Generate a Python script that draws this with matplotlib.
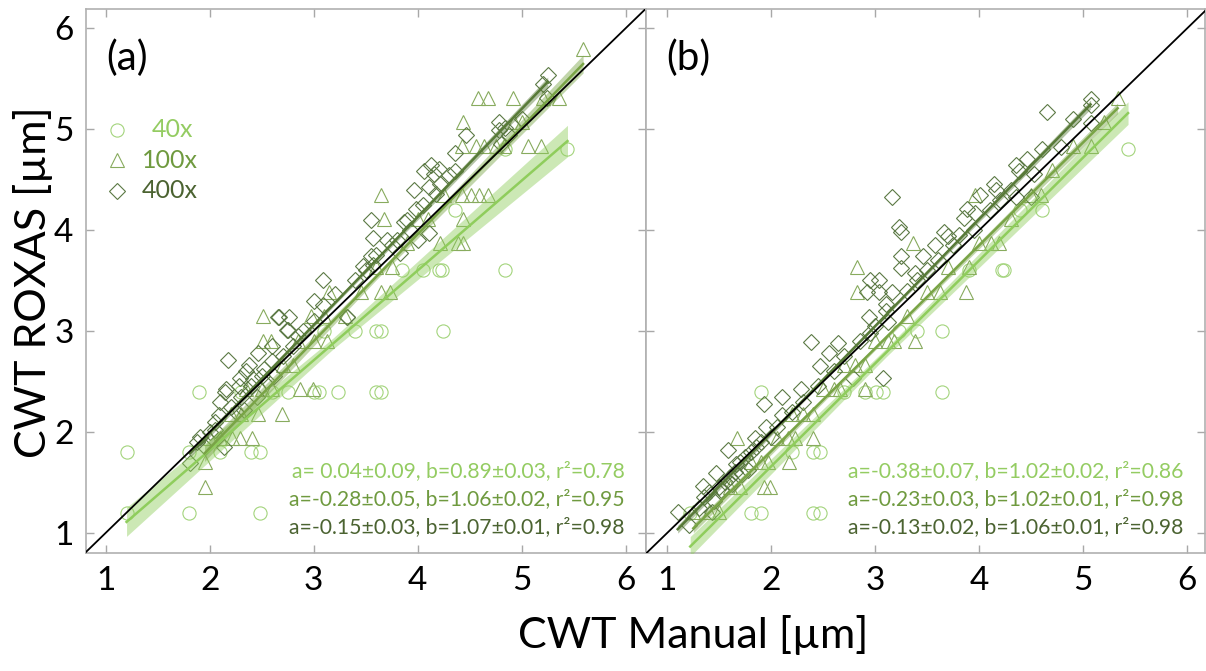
import numpy as np
import matplotlib.pyplot as plt

plt.rcParams['font.family'] = ['Lato', 'DejaVu Sans']

# ---- panel (a) ----
a40_x = [1.2, 1.2, 1.8, 1.8, 2.48, 2.4, 2.48, 1.9, 3.0, 3.05, 3.23, 3.6, 3.65, 3.6, 3.65, 4.24,
         4.2, 4.23, 4.84, 4.36, 4.84, 5.44, 2.1, 2.3, 2.6, 2.75, 3.1, 3.4, 3.85, 4.05]
a40_y = [1.2, 1.8, 1.2, 1.8, 1.2, 1.8, 1.8, 2.4, 2.4, 2.4, 2.4, 2.4, 2.4, 3.0, 3.0, 3.0,
         3.6, 3.6, 3.6, 4.2, 4.8, 4.8, 1.8, 2.4, 2.4, 2.4, 3.0, 3.0, 3.6, 3.6]

a100_x = [5.59, 4.58, 4.68, 4.92, 5.36, 4.44, 4.93, 4.43, 4.56, 4.64, 5.06, 5.19, 4.83, 4.43, 4.51,
          4.59, 4.68, 3.65, 3.68, 4.44, 4.21, 4.39, 4.44, 3.65, 3.73, 3.15, 2.51, 2.97, 2.51, 2.59,
          3.13, 2.87, 2.99, 2.69, 2.46, 2.21, 2.29, 2.41, 1.95, 1.95, 2.0, 2.1, 2.2, 2.3, 2.35,
          2.5, 2.6, 2.7, 2.8, 2.85, 3.0, 3.1, 3.3, 3.45, 3.6, 3.75, 3.9, 4.0, 4.1, 4.25, 4.75,
          5.0, 5.2]
a100_y = [5.79, 5.31, 5.31, 5.31, 5.31, 5.07, 5.07, 4.83, 4.83, 4.83, 4.83, 4.83, 4.83, 4.35, 4.35,
          4.35, 4.35, 4.35, 4.11, 4.11, 3.87, 3.87, 3.87, 3.39, 3.39, 3.39, 3.15, 3.15, 2.90, 2.90,
          2.90, 2.42, 2.42, 2.18, 2.18, 1.94, 1.94, 1.94, 1.70, 1.45, 1.94, 1.94, 2.18, 2.18, 2.42,
          2.42, 2.42, 2.66, 2.66, 2.90, 2.90, 3.15, 3.15, 3.39, 3.63, 3.63, 3.87, 4.11, 4.11, 4.35, 4.83,
          5.07, 5.31]

a400_x = [5.25, 5.24, 4.78, 4.84, 4.78, 4.88, 4.46, 4.36, 4.13, 4.06, 4.16, 4.21, 4.11, 4.18, 3.96,
          4.36, 3.98, 3.55, 3.87, 3.93, 4.11, 3.57, 3.75, 3.83, 4.0, 3.55, 3.47, 3.57, 3.09, 3.2,
          3.32, 2.67, 2.76, 2.74, 2.66, 3.09, 2.75, 2.18, 2.38, 2.46, 2.29, 2.16, 2.09, 1.91, 2.14,
          1.81, 3.32, 2.3, 2.4, 2.5, 2.55, 2.6, 2.7, 2.8, 2.85, 2.9, 3.0, 3.0, 2.2, 2.25, 2.0,
          2.05, 1.95, 2.1, 2.35, 2.45, 2.6, 3.4, 3.5, 3.6, 3.7, 3.8, 3.9, 4.05, 4.2, 4.3, 4.8,
          5.0, 5.2, 2.15, 2.28, 2.42, 2.52, 2.62, 2.33, 2.05, 1.88]
a400_y = [5.54, 5.31, 5.07, 5.01, 4.99, 4.94, 4.94, 4.76, 4.64, 4.58, 4.56, 4.46, 4.43, 4.36, 4.40,
          4.58, 4.21, 4.10, 4.08, 4.0, 3.97, 3.92, 3.85, 3.77, 3.90, 3.74, 3.64, 3.65, 3.50, 3.37,
          3.14, 3.14, 3.14, 3.01, 3.14, 3.26, 3.01, 2.71, 2.66, 2.78, 2.53, 2.42, 2.17, 1.95, 1.85,
          1.69, 3.14, 2.35, 2.45, 2.55, 2.5, 2.7, 2.75, 2.85, 2.95, 3.0, 3.1, 3.3, 2.25, 2.2, 2.0,
          2.1, 1.85, 2.3, 2.6, 2.35, 2.85, 3.5, 3.6, 3.75, 3.9, 3.9, 4.1, 4.25, 4.6, 4.55, 4.85,
          5.1, 5.45, 2.4, 2.45, 2.52, 2.62, 2.55, 2.22, 2.02, 1.9]

# ---- panel (b) ----
b40_x = [5.43, 4.39, 4.22, 4.24, 3.64, 3.23, 1.9, 3.01, 3.07, 3.64, 2.4, 2.47, 1.8, 1.9, 2.4, 2.47,
         2.2, 2.7, 2.9, 3.4, 3.9, 4.6, 1.22]
b40_y = [4.8, 4.2, 3.6, 3.6, 3.0, 3.0, 2.4, 2.4, 2.4, 2.4, 1.8, 1.8, 1.2, 1.2, 1.2, 1.2,
         1.8, 2.4, 2.4, 3.0, 3.6, 4.2, 1.2]

b100_x = [5.33, 5.07, 4.59, 3.96, 3.36, 4.11, 4.19, 2.82, 2.82, 3.87, 3.62, 3.12, 3.18, 3.38, 2.9,
          2.66, 2.9, 2.4, 2.4, 2.17, 2.16, 2.23, 1.97, 1.93, 1.99, 1.67, 1.4, 1.5, 1.6, 1.7,
          1.8, 1.9, 2.05, 2.2, 2.3, 2.5, 2.6, 2.7, 2.8, 3.0, 3.3, 3.5, 3.7, 3.9, 4.0,
          4.3, 4.5, 4.7, 4.9, 5.2, 1.25]
b100_y = [5.31, 4.83, 4.35, 4.35, 3.87, 3.87, 3.87, 3.63, 3.39, 3.39, 3.39, 2.90, 2.90, 2.90, 2.42,
          2.42, 2.66, 2.18, 1.94, 1.70, 1.94, 1.94, 1.70, 1.45, 1.45, 1.94, 1.21, 1.21, 1.45, 1.45,
          1.70, 1.70, 1.94, 2.18, 2.18, 2.42, 2.42, 2.66, 2.66, 2.90, 3.15, 3.39, 3.63, 3.63, 3.87,
          4.11, 4.35, 4.59, 4.83, 5.07, 1.21]

b400_x = [5.07, 5.07, 4.65, 5.07, 4.79, 4.46, 4.35, 4.38, 4.53, 4.14, 4.16, 4.35, 4.5, 4.01, 3.88,
          3.96, 3.85, 3.16, 3.23, 3.25, 3.66, 3.7, 3.57, 3.46, 3.25, 3.25, 3.38, 2.95, 3.04, 2.92,
          3.04, 3.16, 3.10, 2.94, 3.12, 2.95, 2.38, 2.55, 2.47, 2.64, 3.07, 2.79, 2.10, 1.93, 2.29,
          2.10, 1.95, 1.84, 1.58, 1.47, 1.34, 1.10, 1.21, 1.43, 1.3, 1.35, 1.4, 1.5, 1.55, 1.6,
          1.65, 1.7, 1.75, 1.8, 1.85, 1.9, 2.0, 2.05, 2.2, 2.3, 2.45, 2.6, 2.7, 2.85, 3.0,
          3.1, 3.3, 3.4, 3.5, 3.6, 3.75, 3.8, 3.95, 4.1, 4.2, 4.3, 4.6, 4.9, 1.52, 1.62, 1.72,
          1.66, 1.78, 1.45]
b400_y = [5.30, 5.24, 5.17, 5.06, 4.82, 4.70, 4.64, 4.58, 4.56, 4.46, 4.40, 4.33, 4.33, 4.35, 4.21,
          4.17, 4.12, 4.33, 4.03, 3.98, 3.98, 3.94, 3.85, 3.74, 3.74, 3.62, 3.57, 3.50, 3.50, 3.39,
          3.39, 3.39, 3.27, 3.14, 3.09, 2.98, 2.89, 2.78, 2.65, 2.88, 2.53, 2.53, 2.35, 2.28, 2.42,
          2.17, 2.05, 1.94, 1.82, 1.59, 1.46, 1.21, 1.08, 1.21, 1.25, 1.35, 1.4, 1.45, 1.5, 1.55,
          1.6, 1.7, 1.75, 1.8, 1.85, 1.9, 1.95, 2.05, 2.2, 2.3, 2.45, 2.6, 2.75, 2.9, 3.05,
          3.2, 3.4, 3.5, 3.6, 3.7, 3.85, 3.95, 4.0, 4.2, 4.3, 4.4, 4.8, 5.1, 1.42, 1.48, 1.58,
          1.68, 1.62, 1.32]

# fit coefficients: intercept a, slope b (with their standard errors) and r^2
fits_a = [(0.04, 0.09, 0.89, 0.03, 0.78), (-0.28, 0.05, 1.06, 0.02, 0.95), (-0.15, 0.03, 1.07, 0.01, 0.98)]
fits_b = [(-0.38, 0.07, 1.02, 0.02, 0.86), (-0.23, 0.03, 1.02, 0.01, 0.98), (-0.13, 0.02, 1.06, 0.01, 0.98)]

mag_labels = ['40x', '100x', '400x']
markers = ['o', '^', 'D']
marker_sizes = [9.5, 10, 7.8]
point_colors = ['#a3d47c', '#88ab5e', '#5b7944']
line_colors = ['#8fcd5c', '#79a446', '#587a38']
text_colors = ['#94cc62', '#6f9a3f', '#4b6331']

fig = plt.figure(figsize=(12.06, 6.71), dpi=100)
ax_a = fig.add_axes([86 / 1206, 118 / 671, 560 / 1206, 544 / 671])
ax_b = fig.add_axes([646 / 1206, 118 / 671, 559 / 1206, 544 / 671])


def draw_panel(ax, series, fits, tag, xlim):
    for i, (xs, ys) in enumerate(series):
        ax.plot(xs, ys, linestyle='none', marker=markers[i], ms=marker_sizes[i],
                mfc='none', mec=point_colors[i], mew=0.8, zorder=2)
    for i, (xs, ys) in enumerate(series):
        a, sa, b, sb, r2 = fits[i]
        xx = np.linspace(min(xs), max(xs), 50)
        yy = a + b * xx
        xm = np.mean(xs)
        half = 1.5 * sb * np.abs(xx - xm) + 0.6 * sa
        ax.fill_between(xx, yy - half, yy + half, color=line_colors[i], alpha=0.45, lw=0, zorder=3)
        ax.plot(xx, yy, color=line_colors[i], lw=1.8, zorder=4)
    ax.plot([0, 7], [0, 7], color='black', lw=1.3, zorder=5)

    ax.set_xlim(*xlim)
    ax.set_ylim(0.80, 6.19)
    ax.set_xticks([1, 2, 3, 4, 5, 6])
    ax.set_yticks([1, 2, 3, 4, 5, 6])
    ax.tick_params(direction='in', length=6, width=1, color='#a8a8a8',
                   top=True, right=True, labelsize=24, pad=9)
    for sp in ax.spines.values():
        sp.set_color('#b0b0b0')
        sp.set_linewidth(1.2)

    ax.text(0.036, 0.91, tag, transform=ax.transAxes, fontsize=29, va='center', ha='left')

    for i, (a, sa, b, sb, r2) in enumerate(fits):
        a_txt = f' {a:.2f}' if a >= 0 else f'{a:.2f}'
        s = f'a={a_txt}\u00b1{sa:.2f}, b={b:.2f}\u00b1{sb:.2f}, r\u00b2={r2:.2f}'
        ax.text(0.962, 0.151 - i * 0.052, s, transform=ax.transAxes, fontsize=15.2,
                color=text_colors[i], ha='right', va='center')


draw_panel(ax_a, [(a40_x, a40_y), (a100_x, a100_y), (a400_x, a400_y)], fits_a, '(a)', (0.81, 6.195))
draw_panel(ax_b, [(b40_x, b40_y), (b100_x, b100_y), (b400_x, b400_y)], fits_b, '(b)', (0.795, 6.17))
ax_b.tick_params(labelleft=False)

# legend in panel (a)
for i, lab in enumerate(mag_labels):
    yk = 0.778 - i * 0.056
    ax_a.plot([0.055], [yk], transform=ax_a.transAxes, linestyle='none', marker=markers[i],
              ms=marker_sizes[i], mfc='none', mec=point_colors[i], mew=0.8)
    ax_a.text(0.118 if i == 0 else 0.1, yk, lab, transform=ax_a.transAxes, fontsize=18,
              color=text_colors[i], va='center', ha='left')

fig.text(0.575, 0.053, 'CWT Manual [\u00b5m]', fontsize=31, ha='center', va='center')
fig.text(0.027, 0.58, 'CWT ROXAS [\u00b5m]', fontsize=31, ha='center', va='center', rotation=90)

fig.savefig('out.png', dpi=100)
